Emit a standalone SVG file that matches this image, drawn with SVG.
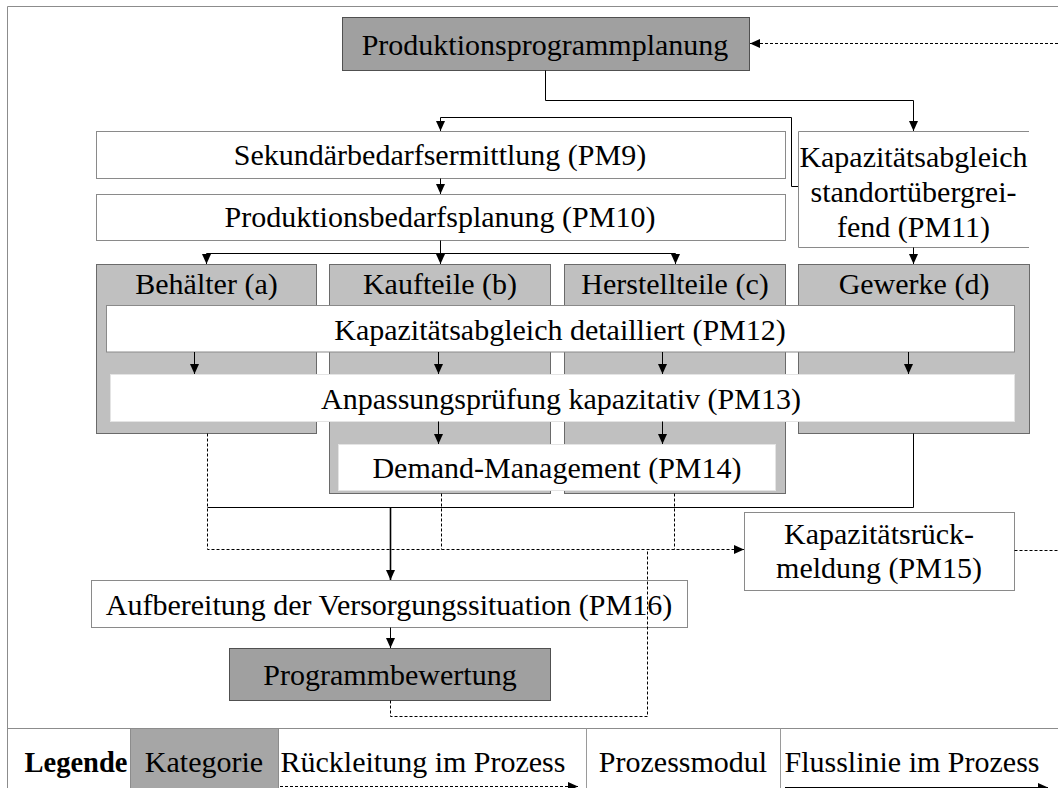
<svg xmlns="http://www.w3.org/2000/svg" width="1058" height="788" viewBox="0 0 1058 788">
  <style>
    text { font-family: "Liberation Serif", "Times New Roman", serif; font-size: 30px; fill: #000; text-anchor: middle; }
    .main { fill: #a0a0a0; stroke: #505050; stroke-width: 1; }
    .cat { fill: #c0c0c0; stroke: #6a6a6a; stroke-width: 1; }
    .pm { fill: #fff; stroke: #8a8a8a; stroke-width: 1; }
    .pm-soft { fill: #fff; stroke: #e4e4e4; stroke-width: 1; }
    .flow { fill: none; stroke: #000; stroke-width: 1; }
    .flow-bold { fill: none; stroke: #000; stroke-width: 1.6; }
    .back { fill: none; stroke: #000; stroke-width: 1; stroke-dasharray: 3 2; }
    .frame { fill: none; stroke: #8c8c8c; stroke-width: 1; }
  </style>
  <defs>
    <marker id="ah" viewBox="0 0 10 10" refX="10" refY="5" markerWidth="10" markerHeight="10" markerUnits="userSpaceOnUse" orient="auto">
      <path d="M0,0.5 L10,5 L0,9.5 z" fill="#000" stroke="none"/>
    </marker>
  </defs>

  <rect width="1058" height="788" fill="#fff"/>
  <path class="frame" d="M7.5,788 V6.5 H1058"/>

  <!-- top level -->
  <g id="produktionsprogrammplanung">
    <rect class="main" x="342.5" y="17.5" width="407" height="53"/>
    <text x="545" y="55">Produktionsprogrammplanung</text>
  </g>
  <g id="pm9">
    <rect class="pm" x="96.5" y="131.5" width="689" height="47"/>
    <text x="440" y="165">Sekundärbedarfsermittlung (PM9)</text>
  </g>
  <g id="pm10">
    <rect class="pm" x="96.5" y="194.5" width="689" height="46"/>
    <text x="440" y="227">Produktionsbedarfsplanung (PM10)</text>
  </g>
  <g id="pm11">
    <rect x="798.5" y="131.5" width="231" height="116" fill="#fff"/>
    <path d="M1029,131.5 H798.5 V247.5 H1029" fill="none" stroke="#8a8a8a"/>
    <text x="913.5" y="167">Kapazitätsabgleich</text>
    <text x="913.5" y="202">standortübergrei-</text>
    <text x="913.5" y="237">fend (PM11)</text>
  </g>

  <!-- categories -->
  <g id="behaelter">
    <rect class="cat" x="96.5" y="264.5" width="220" height="169"/>
    <text x="206.5" y="294">Behälter (a)</text>
  </g>
  <g id="kaufteile">
    <rect class="cat" x="329.5" y="264.5" width="221" height="229"/>
    <text x="440" y="294">Kaufteile (b)</text>
  </g>
  <g id="herstellteile">
    <rect class="cat" x="564.5" y="264.5" width="221" height="229"/>
    <text x="675" y="294">Herstellteile (c)</text>
  </g>
  <g id="gewerke">
    <rect class="cat" x="798.5" y="264.5" width="231" height="169"/>
    <text x="914" y="294">Gewerke (d)</text>
  </g>

  <!-- process modules across categories -->
  <g id="pm12">
    <rect class="pm" x="106.5" y="305.5" width="908" height="46.5"/>
    <text x="560" y="339.5">Kapazitätsabgleich detailliert (PM12)</text>
  </g>
  <g id="pm13">
    <rect class="pm-soft" x="110.5" y="374.5" width="904" height="47"/>
    <text x="561" y="409">Anpassungsprüfung kapazitativ (PM13)</text>
  </g>
  <g id="pm14">
    <rect class="pm-soft" x="338.5" y="444.5" width="437" height="46"/>
    <text x="557" y="478">Demand-Management (PM14)</text>
  </g>
  <g id="pm15">
    <rect class="pm" x="744.5" y="512.5" width="270" height="78"/>
    <text x="879" y="544">Kapazitätsrück-</text>
    <text x="879" y="578">meldung (PM15)</text>
  </g>
  <g id="pm16">
    <rect class="pm" x="91.5" y="580.5" width="596" height="47"/>
    <text x="389" y="615">Aufbereitung der Versorgungssituation (PM16)</text>
  </g>
  <g id="programmbewertung">
    <rect class="main" x="229.5" y="648.5" width="321" height="52"/>
    <text x="390" y="685">Programmbewertung</text>
  </g>

  <!-- connectors -->
  <g id="connectors">
    <path class="back" d="M1058,43.5 H750" marker-end="url(#ah)"/>
    <path class="flow" d="M545.5,70.5 V100.5 H913.5 V131" marker-end="url(#ah)"/>
    <path class="flow" d="M798,186.5 H791.5 V117.5 H440.5 V131" marker-end="url(#ah)"/>
    <path class="flow" d="M440.5,178.5 V194" marker-end="url(#ah)"/>
    <path class="flow" d="M440.5,240.5 V264" marker-end="url(#ah)"/>
    <path class="flow" d="M440.5,253.5 H206.5 V264" marker-end="url(#ah)"/>
    <path class="flow" d="M440.5,253.5 H675.5 V264" marker-end="url(#ah)"/>
    <path class="flow" d="M913.5,247.5 V264" marker-end="url(#ah)"/>

    <path class="flow" d="M194.5,352 V374" marker-end="url(#ah)"/>
    <path class="flow" d="M438.5,352 V374" marker-end="url(#ah)"/>
    <path class="flow" d="M662.5,352 V374" marker-end="url(#ah)"/>
    <path class="flow" d="M908.5,352 V374" marker-end="url(#ah)"/>
    <path class="flow" d="M438.5,421.5 V444" marker-end="url(#ah)"/>
    <path class="flow" d="M662.5,421.5 V444" marker-end="url(#ah)"/>

    <path class="flow" d="M913.5,433.5 V507.5 H207.5"/>
    <path class="flow-bold" d="M390.5,507.5 V580" marker-end="url(#ah)"/>
    <path class="flow" d="M390.5,627.5 V648" marker-end="url(#ah)"/>

    <path class="back" d="M207.5,433.5 V549.5 H744" marker-end="url(#ah)"/>
    <path class="back" d="M441.5,493.5 V549.5"/>
    <path class="back" d="M674.5,493.5 V549.5"/>
    <path class="back" d="M390.5,700.5 V716.5 H647.5 V549.5"/>
    <path class="back" d="M1014.5,550.5 H1058"/>
  </g>

  <!-- legend -->
  <g id="legend">
    <path class="frame" d="M7.5,728.5 H1058"/>
    <rect x="130.5" y="728.5" width="148" height="60" fill="#a6a6a6" stroke="#8c8c8c"/>
    <path d="M586.5,728.5 V788 M780.5,728.5 V788" stroke="#9a9a9a" fill="none"/>
    <text x="76" y="772" font-weight="bold" style="font-size:28.5px">Legende</text>
    <text x="204" y="772">Kategorie</text>
    <text x="423" y="772">Rückleitung im Prozess</text>
    <text x="683" y="772">Prozessmodul</text>
    <text x="912" y="772">Flusslinie im Prozess</text>
    <path class="back" d="M280,786.5 H578" marker-end="url(#ah)"/>
    <path class="flow" d="M785,787.5 H1048" marker-end="url(#ah)"/>
  </g>
</svg>
